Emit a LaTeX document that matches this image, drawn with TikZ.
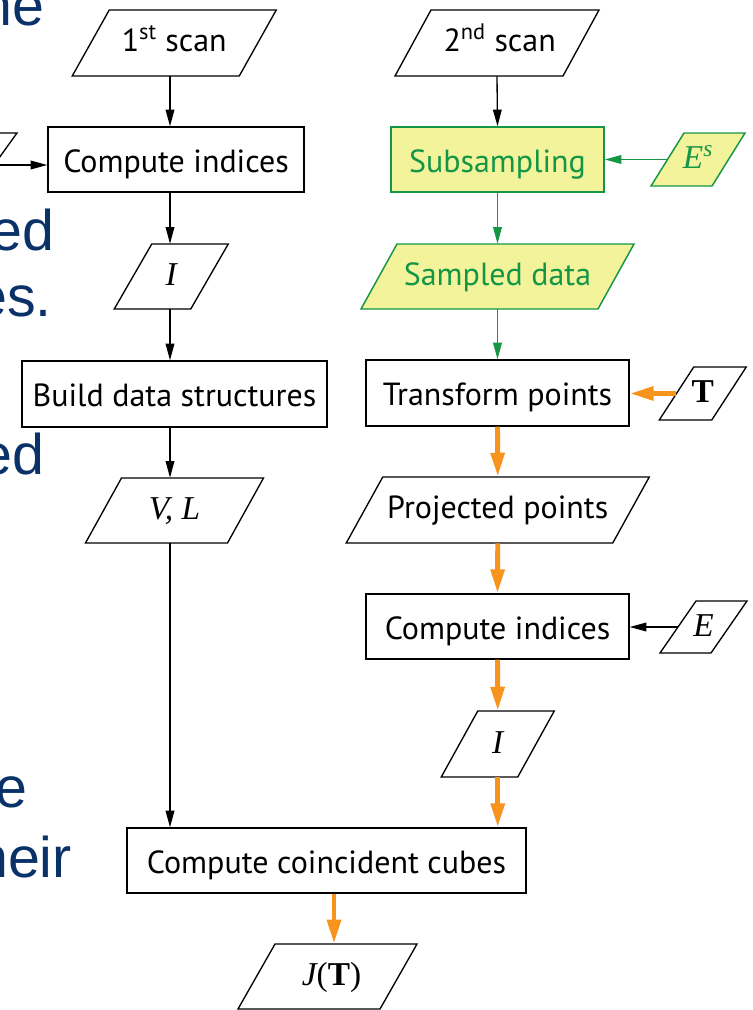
\documentclass[tikz,border=0pt]{standalone}
\usepackage{fontspec}
\setmainfont{PT Sans}
\newfontfamily\tmsfont{Liberation Serif}
\newfontfamily\slidefont{Liberation Sans}
\usetikzlibrary{arrows.meta,calc}
\definecolor{navy}{RGB}{10,50,105}
\definecolor{grn}{RGB}{20,150,70}
\definecolor{ylw}{RGB}{243,243,155}
\definecolor{org}{RGB}{247,148,29}
\newcommand\boxfont{\fontsize{24}{28}\selectfont}
\newcommand\mylbl{\tmsfont\itshape\fontsize{25}{28}\selectfont}
\newcommand\mylblb{\tmsfont\bfseries\fontsize{25}{28}\selectfont}
\tikzset{
 box/.style={draw=black, line width=1pt, fill=white, inner sep=0pt, font=\boxfont, text height=23pt, text depth=4.2pt},
 gbox/.style={box, draw=grn, fill=ylw, text=grn, line width=1.1pt},
 parashape/.style={draw=black, line width=1pt, fill=white},
 gparashape/.style={draw=grn, fill=ylw, line width=1.1pt},
 paralabel/.style={inner sep=0pt, font=\boxfont},
 sanslabel/.style={text height=18pt, text depth=5.2pt},
 mathlabel/.style={text height=14pt, text depth=0pt},
 blk/.style={draw=black, line width=1pt, -{Triangle[length=12.5pt,width=6.5pt]}},
 grnarrow/.style={draw=grn, line width=1.1pt, -{Triangle[length=12.5pt,width=6.5pt]}},
 orarrow/.style={draw=org, line width=3.7pt, -{Triangle[length=18pt,width=10pt]}},
 slide/.style={anchor=base east, inner sep=0pt, text=navy, font=\slidefont\fontsize{43}{50}\selectfont},
}
% #1 shape style, #2 label style, #3 name, #4 centre, #5 width, #6 height, #7 slant, #8 text
\newcommand\mypara[8][parashape]{%
  \path[parashape,#1] ($(#4)+({-(#5)/2+(#7)/2},{-(#6)/2})$) -- ($(#4)+({(#5)/2+(#7)/2},{-(#6)/2})$)
     -- ($(#4)+({(#5)/2-(#7)/2},{(#6)/2})$) -- ($(#4)+({-(#5)/2-(#7)/2},{(#6)/2})$) -- cycle;
  \node[paralabel, #2, minimum width={(#5)*0.75pt}, minimum height={(#6)*0.75pt}] (#3) at (#4) {#8};
}
\begin{document}
\begin{tikzpicture}[x=0.75pt,y=-0.75pt]
\useasboundingbox (0,0) rectangle (753,1010);
\clip (0,0) rectangle (753,1010);
% slide text fragments
\node[slide] (s1) at (45,25) {he};
\node[slide] (s2) at (55,250) {ed};
\node[slide] (s3) at (52,316) {es.};
\node[slide] (s4) at (45,474) {ed};
\node[slide] (s5) at (28,807) {e};
\node[slide] (s6) at (72,877) {heir};
% left column
\coordinate (colL) at (170,0);
\coordinate (colJ) at (334,0);
\mypara{mathlabel}{lp}{-31.5,165}{51}{64}{46}{}
\mypara{sanslabel}{scan1}{174.25,43}{167}{66}{37}{1\textsuperscript{st} scan}
\node[box, minimum width=256*0.75pt, minimum height=65*0.75pt] (ci1) at (176,159.5) {Compute indices};
\mypara{mathlabel}{I1}{171.25,276.5}{76.5}{65}{37.5}{\mylbl I}
\node[box, minimum width=305*0.75pt, minimum height=66*0.75pt] (build) at (174.5,394) {Build data structures};
\mypara{mathlabel}{VL}{174.5,510.5}{142}{65}{36}{\mylbl V, L}
\node[box, minimum width=399*0.75pt, minimum height=65*0.75pt] (ccc) at (326.5,860.5) {Compute coincident cubes};
\mypara{mathlabel}{J}{327.5,976.5}{142}{65}{37}{\hspace*{6pt}{\mylbl J}{\tmsfont\fontsize{25}{28}\selectfont(\textbf{T})}}
% right column
\mypara{sanslabel}{scan2}{497,43}{168}{66}{36}{\hspace*{4pt}2\textsuperscript{nd} scan}
\node[gbox, minimum width=213*0.75pt, minimum height=65*0.75pt] (sub) at (497.5,159.5) {Subsampling};
\mypara[gparashape]{mathlabel}{Es}{698,159.5}{61}{53}{33}{\textcolor{grn}{\mylbl E\textsuperscript{s}}}
\mypara[gparashape]{sanslabel}{samp}{497.5,276.5}{237}{65}{36}{\textcolor{grn}{Sampled data}}
\node[box, minimum width=263*0.75pt, minimum height=66*0.75pt] (trans) at (497.5,393) {Transform points};
\mypara{mathlabel}{T}{702.75,393.5}{52.5}{53}{34.5}{\mylblb T}
\mypara{sanslabel}{proj}{497.75,510}{266.5}{66}{36.5}{Projected points}
\node[box, minimum width=263*0.75pt, minimum height=65*0.75pt] (ci2) at (497.5,626.5) {Compute indices};
\mypara{mathlabel}{E}{703.5,627}{51}{52}{36}{\mylbl E}
\mypara{mathlabel}{I2}{497.75,744}{76.5}{66}{36.5}{\mylbl I}
% connectors
\draw[blk] (scan1.south -| colL) -- (ci1.north -| colL);
\draw[blk] (ci1.south -| colL) -- (I1.north -| colL);
\draw[blk] (I1.south -| colL) -- (build.north -| colL);
\draw[blk] (build.south -| colL) -- (VL.north -| colL);
\draw[blk] (VL.south -| colL) -- (ccc.north -| colL);
\draw[blk] (lp.east) -- (lp.east -| ci1.west);
\draw[blk] (scan2.south) -- (sub.north);
\draw[grnarrow] (Es.west) -- (Es.west -| sub.east);
\draw[grnarrow] (sub.south) -- (samp.north);
\draw[grnarrow] (samp.south) -- (trans.north);
\draw[orarrow] (T.west) -- (T.west -| trans.east);
\draw[orarrow] (trans.south) -- (proj.north);
\draw[orarrow] (proj.south) -- (ci2.north);
\draw[blk] (E.west) -- (E.west -| ci2.east);
\draw[orarrow] (ci2.south) -- (I2.north);
\draw[orarrow] (I2.south) -- (I2.south |- ccc.north);
\draw[orarrow] (ccc.south -| colJ) -- (J.north -| colJ);
\end{tikzpicture}
\end{document}
